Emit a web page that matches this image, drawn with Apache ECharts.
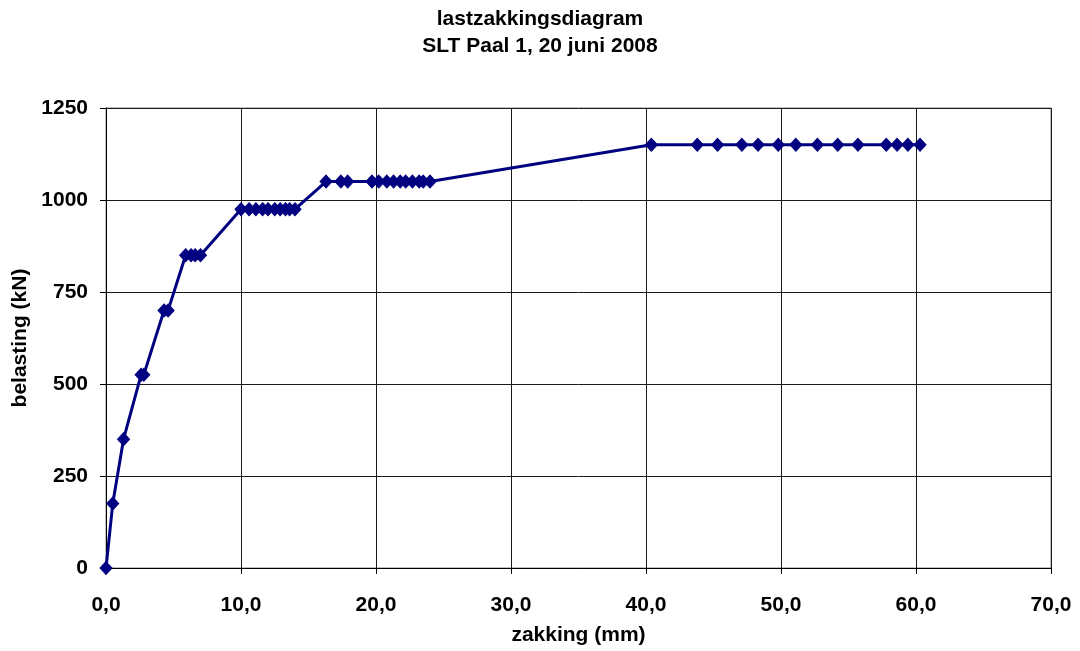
<!DOCTYPE html>
<html>
<head>
<meta charset="utf-8">
<script src="https://cdn.jsdelivr.net/npm/echarts@6/dist/echarts.min.js"></script>
<style>
  html, body { margin: 0; padding: 0; background: #fff; }
  #chart { width: 1080px; height: 651px; }
</style>
</head>
<body>
<div id="chart"></div>
<script>
// Settlement (mm) and load (kN) readings of the static load test
const zakking = [
  0.0, 0.5, 1.3, 2.6, 2.8, 4.3, 4.6,
  5.9, 6.3, 6.6, 7.0,
  10.0, 10.6, 11.1, 11.6, 12.0, 12.5, 12.9, 13.3, 13.6, 14.0,
  16.3, 17.4, 17.9, 19.7, 20.2, 20.8, 21.3, 21.8, 22.2, 22.7, 23.2, 23.5, 24.0,
  40.4, 43.8, 45.3, 47.1, 48.3, 49.8, 51.1, 52.7, 54.2, 55.7, 57.8, 58.6, 59.4, 60.3
];
const belasting = [
  0, 175, 350, 525, 525, 700, 700,
  850, 850, 850, 850,
  975, 975, 975, 975, 975, 975, 975, 975, 975, 975,
  1050, 1050, 1050, 1050, 1050, 1050, 1050, 1050, 1050, 1050, 1050, 1050, 1050,
  1150, 1150, 1150, 1150, 1150, 1150, 1150, 1150, 1150, 1150, 1150, 1150, 1150, 1150
];
const titleLines = ['lastzakkingsdiagram', 'SLT Paal 1, 20 juni 2008'];
const xName = 'zakking (mm)';
const yName = 'belasting (kN)';

const points = zakking.map((x, i) => [x, belasting[i]]);
const font = '"Liberation Sans", Arial, sans-serif';
const textBase = { fontFamily: font, fontWeight: 'bold', fontSize: 21, color: '#000' };

const chart = echarts.init(document.getElementById('chart'), null, { renderer: 'canvas' });
chart.setOption({
  backgroundColor: '#ffffff',
  animation: false,
  title: {
    text: titleLines.join('\n'),
    left: 'center',
    top: 1,
    textStyle: Object.assign({}, textBase, { lineHeight: 27 })
  },
  grid: {
    left: 106, right: 29, top: 108, bottom: 80,
    show: true, borderColor: '#808080', borderWidth: 1, backgroundColor: '#fff'
  },
  xAxis: {
    type: 'value',
    min: 0, max: 70, interval: 10,
    name: xName,
    nameLocation: 'middle',
    nameGap: 57,
    nameTextStyle: textBase,
    axisLine: { show: true, onZero: false, lineStyle: { color: '#000', width: 1 } },
    axisTick: { show: true, inside: false, length: 6, lineStyle: { color: '#000' } },
    axisLabel: Object.assign({}, textBase, {
      margin: 27,
      formatter: v => v.toFixed(1).replace('.', ',')
    }),
    splitLine: { show: true, lineStyle: { color: '#1a1a1a', width: 1 } }
  },
  yAxis: {
    type: 'value',
    min: 0, max: 1250, interval: 250,
    name: yName,
    nameLocation: 'middle',
    nameGap: 74,
    nameRotate: 90,
    nameTextStyle: textBase,
    axisLine: { show: true, lineStyle: { color: '#000', width: 1 } },
    axisTick: { show: true, length: 6, lineStyle: { color: '#000' } },
    axisLabel: Object.assign({}, textBase, {
      margin: 18,
      formatter: v => String(v)
    }),
    splitLine: { show: true, lineStyle: { color: '#1a1a1a', width: 1 } }
  },
  series: [{
    type: 'line',
    data: points,
    symbol: 'diamond',
    symbolSize: [12, 13],
    showAllSymbol: true,
    lineStyle: { color: '#000080', width: 3 },
    itemStyle: { color: '#000080', borderColor: '#000080' },
    z: 5
  }]
});
</script>
</body>
</html>
